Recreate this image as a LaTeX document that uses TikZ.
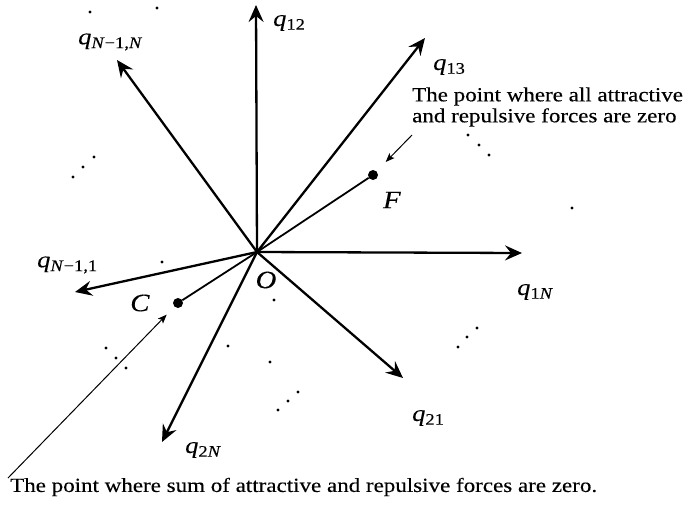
\documentclass[tikz,border=0pt]{standalone}
\usepackage{fontspec}
\setmainfont{Liberation Serif}[FakeStretch=1.15, FakeBold=0.2]
\usetikzlibrary{arrows.meta}
\newcommand{\qlab}[1]{\textit{q}\textsubscript{#1}}
\tikzset{
  vec/.style={line width=2.3pt, -{Stealth[length=17pt,width=15pt,inset=6pt]}},
  ray/.style={line width=1.8pt},
  pointer/.style={line width=1pt, -{Stealth[length=9pt,width=7pt,inset=2pt]}},
  dot/.style={circle, fill, inner sep=0pt, minimum size=10pt},
  lbl/.style={font=\fontsize{20}{21}\selectfont, inner sep=0pt},
  qlbl/.style={font=\fontsize{23}{24}\selectfont, inner sep=0pt, anchor=west},
  pt/.style={font=\fontsize{25}{26}\selectfont, inner sep=0pt},
}
\begin{document}
\begin{tikzpicture}[x=1pt,y=-1pt]
  \useasboundingbox (0,0) rectangle (690,507);
  \coordinate (O) at (257,252);
  % force vectors out of O
  \foreach \name/\x/\y in {t12/256/5, tNN/117/60, t13/425/38, t1N/522/253,
                           t21/403/378, tN1/75/292, t2N/162/442}{
    \coordinate (\name) at (\x,\y);
    \draw[vec] (O) -- (\name);
  }
  \foreach \name/\x/\y/\sub in {t12/273/23/{12}, tNN/78/42/{\textit{N}−1,\textit{N}},
                                t13/433/67/{13}, t1N/517/292/{1\textit{N}},
                                t21/412/418/{21}, tN1/37/265/{\textit{N}−1,1},
                                t2N/185/450/{2\textit{N}}}{
    \node[qlbl] (l\name) at (\x,\y) {\qlab{\sub}};
  }
  % the two points
  \node[dot] (F) at (373,175) {};
  \node[dot] (C) at (178,303) {};
  \draw[ray] (O) -- (F);
  \draw[ray] (O) -- (C);
  \node[pt] (lO) at (266,280) {\textit{O}};
  \node[pt] (lF) at (392,200) {\textit{F}};
  \node[pt] (lC) at (140,303) {\textit{C}};
  % notes
  \node[lbl, align=left, anchor=west] (noteF) at (412,107)
    {The point where all attractive\\and repulsive forces are zero};
  \coordinate (tailF) at (412,135);
  \draw[pointer, shorten >=13pt] (tailF) -- (F);
  \node[lbl, anchor=west] (noteC) at (10,487)
    {The point where sum of attractive and repulsive forces are zero.};
  \coordinate (tailC) at (8,478);
  \draw[pointer, shorten >=11pt] (tailC) -- (C);
  % dots for the other vectors
  \foreach \x/\y in {90/12, 157/8, 94/157, 83/167, 73/177, 468/135, 479/145,
                     489/155, 572/208, 458/347, 467/337, 477/328, 106/348,
                     116/358, 126/368, 278/410, 288/401, 298/392, 162/262,
                     228/346, 270/362, 274/300}
    \fill (\x,\y) circle (1.6);
\end{tikzpicture}
\end{document}
